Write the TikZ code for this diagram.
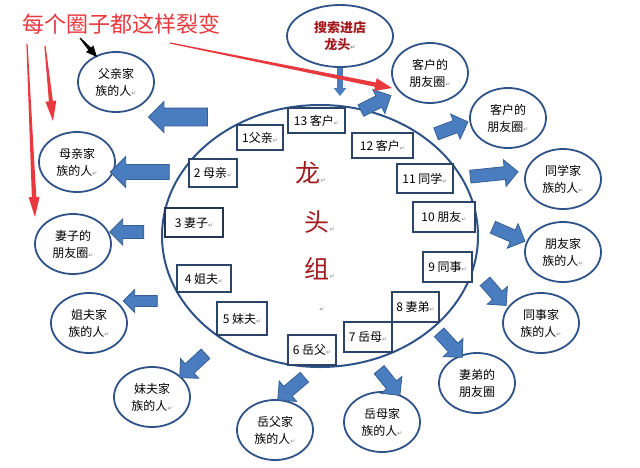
\documentclass[tikz,border=0pt]{standalone}
\usepackage{fontspec}
\setmainfont{Noto Sans CJK SC}
\newfontfamily\dvfont{DejaVu Sans}
\usetikzlibrary{shapes.geometric,shapes.arrows,arrows.meta,calc}
\definecolor{ellc}{HTML}{2F5288}
\definecolor{boxc}{HTML}{2B4468}
\definecolor{arrf}{HTML}{4A7DC0}
\definecolor{arrd}{HTML}{365F95}
\definecolor{redc}{HTML}{E8393F}
\definecolor{dred}{HTML}{A31A1E}
\newcommand\retm{{\dvfont\fontsize{6}{6}\selectfont\textcolor{black!50}{↵}}}
\newcommand\taperarrow[7]{%
 \path ($(#2)!#7!(#1)$) coordinate (tahb);
 \fill[#3] ($(#1)!#4!90:(#2)$) -- ($(tahb)!#5!-90:(#1)$) -- ($(tahb)!#6!-90:(#1)$) -- (#2) -- ($(tahb)!#6!90:(#1)$) -- ($(tahb)!#5!90:(#1)$) -- ($(#1)!#4!-90:(#2)$) -- cycle;}
\tikzset{
 circ/.style={ellipse, draw=ellc, line width=1.8pt, minimum width=76pt, minimum height=60pt, inner sep=0pt, align=center, font=\fontsize{12}{17}\selectfont, fill=white},
 box/.style={rectangle, draw=boxc, line width=1.8pt, fill=white, inner sep=0pt, font=\fontsize{12}{14}\selectfont},
 barrow/.style n args={2}{single arrow, draw=arrd, fill=arrf, line width=0.8pt, text height=0pt, text depth=0pt, inner xsep=0pt, inner ysep=#1/2, single arrow head extend={(#2-#1)/2}, single arrow tip angle=90, anchor=center},
 bigch/.style={text=dred, font=\fontsize{25}{25}\selectfont, inner sep=0pt}
}
\begin{document}
\begin{tikzpicture}[x=1pt,y=-1pt]
\useasboundingbox (0,0) rectangle (640,467);
\fill[white] (0,0) rectangle (640,467);
% big ellipse
\node[ellipse, draw=ellc, line width=2pt, minimum width=316pt, minimum height=262pt, inner sep=0pt] (big) at (320,236) {};
% top ellipse
\node[circ, minimum width=106pt, minimum height=62pt, font=\bfseries\fontsize{13}{17}\selectfont, text=dred] (top) at (340,36) {搜索进店\\龙头\retm};
% outer ellipses
\node[circ] (p1) at (116,82) {父亲家\\族的人\retm};
\node[circ] (p2) at (77,162) {母亲家\\族的人\retm};
\node[circ] (p3) at (73,244) {妻子的\\朋友圈\retm};
\node[circ] (p4) at (89,323) {姐夫家\\族的人\retm};
\node[circ] (p5) at (152,397) {妹夫家\\族的人\retm};
\node[circ] (p6) at (275,430) {岳父家\\族的人\retm};
\node[circ] (p7) at (382,422) {岳母家\\族的人\retm};
\node[circ] (p8) at (477,383) {妻弟的\\朋友圈};
\node[circ] (p9) at (541,323) {同事家\\族的人\retm};
\node[circ] (p10) at (563,252) {朋友家\\族的人\retm};
\node[circ] (p11) at (563,179) {同学家\\族的人\retm};
\node[circ] (p12) at (508,118) {客户的\\朋友圈\retm};
\node[circ] (p13) at (430,73) {客户的\\朋友圈\retm};
% boxes
\node[box, minimum width=57pt, minimum height=25pt] (b13) at (316.5,120.5) {13 客户\retm};
\node[box, minimum width=46pt, minimum height=25pt] (b1) at (260,137.5) {1父亲\retm};
\node[box, minimum width=61pt, minimum height=25pt] (b12) at (382.5,145.5) {12 客户\retm};
\node[box, minimum width=48pt, minimum height=28pt] (b2) at (213,173) {2 母亲\retm};
\node[box, minimum width=56pt, minimum height=29pt] (b11) at (425,178.5) {11 同学\retm};
\node[box, minimum width=58pt, minimum height=29pt, draw=boxc!80!black] (b3) at (194,222.5) {3 妻子\retm};
\node[box, minimum width=62pt, minimum height=30pt] (b10) at (444,217) {10 朋友\retm};
\node[box, minimum width=54pt, minimum height=27pt] (b4) at (204,278.5) {4 姐夫\retm};
\node[box, minimum width=49pt, minimum height=30pt] (b9) at (447.5,267) {9 同事\retm};
\node[box, minimum width=50pt, minimum height=33pt] (b5) at (242,318.5) {5 妹夫\retm};
\node[box, minimum width=47pt, minimum height=30pt] (b8) at (415.5,307) {8 妻弟\retm};
\node[box, minimum width=48pt, minimum height=30pt] (b7) at (368,337) {7 岳母\retm};
\node[box, minimum width=48pt, minimum height=30pt] (b6) at (312,350) {6 岳父\retm};
% center characters
\node[bigch] (c1) at (311,173) {龙\retm};
\node[bigch] (c2) at (320,222) {头\retm};
\node[bigch] (c3) at (320,269) {组\retm};
\node[inner sep=0pt] (c4) at (322,310) {\retm};
% block arrows
\node[barrow={17pt}{30pt}, minimum height=59pt, rotate=180] (a1) at (182.5,117) {};
\node[barrow={14pt}{30pt}, minimum height=59pt, rotate=180] (a2) at (143.5,172) {};
\node[barrow={12pt}{25pt}, minimum height=34pt, rotate=180] (a3) at (130,232) {};
\node[barrow={10pt}{22pt}, minimum height=34pt, rotate=180] (a4) at (143,301) {};
\node[barrow={12pt}{26pt}, minimum height=35pt, rotate=222.6] (a5) at (195,363.5) {};
\node[barrow={12pt}{26pt}, minimum height=35pt, rotate=220.4] (a6) at (293.5,386.5) {};
\node[barrow={12pt}{26pt}, minimum height=33pt, rotate=-51] (a7) at (387.5,380) {};
\node[barrow={12pt}{26pt}, minimum height=34pt, rotate=-47.4] (a8) at (448.5,342.5) {};
\node[barrow={12pt}{26pt}, minimum height=32pt, rotate=-48.8] (a9) at (493.5,291) {};
\node[barrow={12pt}{26pt}, minimum height=35pt, rotate=-23.6] (a10) at (506,233) {};
\node[barrow={12pt}{26pt}, minimum height=48pt, rotate=5.9] (a11) at (491,174.5) {};
\node[barrow={12pt}{26pt}, minimum height=34pt, rotate=20.6] (a12) at (449,129) {};
\node[barrow={12pt}{26pt}, minimum height=33.5pt, rotate=26.6] (a13) at (373,104.5) {};
% down arrow from top ellipse
\draw[arrf, line width=6pt, shorten >=11pt, -{Triangle[width=12pt,length=8pt]}] (top.south) -- (top.south |- b13.north);
% title
\node[text=redc, font=\fontsize{22}{22}\selectfont, inner sep=0pt] (title) at (122,24) {每个圈子都这样裂变};
% red and black tapered arrows
\coordinate (r1s) at (170,43);
\coordinate (r1e) at (392,88);
\coordinate (r2s) at (45,46);
\coordinate (r2e) at (53,121);
\coordinate (r3s) at (27,44);
\coordinate (r3e) at (35,217);
\coordinate (k1s) at (80,38);
\coordinate (k1e) at (97,57);
\taperarrow{r1s}{r1e}{redc}{0.6pt}{2.2pt}{6.5pt}{17pt}
\taperarrow{r2s}{r2e}{redc}{0.6pt}{2pt}{5.5pt}{20pt}
\taperarrow{r3s}{r3e}{redc}{0.6pt}{2.2pt}{5.5pt}{20pt}
\taperarrow{k1s}{k1e}{black}{0.6pt}{1.8pt}{5pt}{11pt}
\end{tikzpicture}
\end{document}
